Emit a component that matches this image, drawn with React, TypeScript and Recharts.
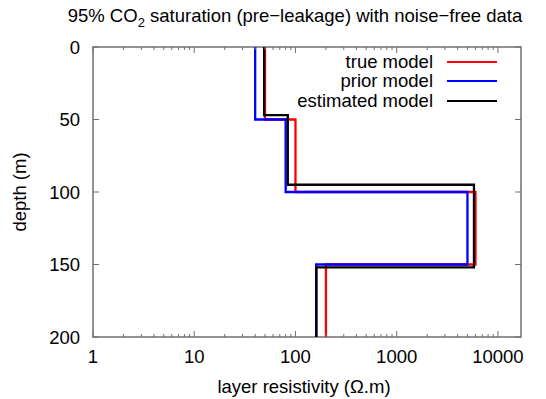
import { Customized, Legend, ReferenceArea, Scatter, ScatterChart, XAxis, YAxis } from "recharts";

// layer boundaries (m) and resistivities (ohm.m)
const trueBounds = [0, 50, 100, 150, 200];
const trueValues = [50, 100, 6000, 200];
const priorBounds = [0, 50, 100, 150, 200];
const priorValues = [40, 80, 5000, 160];
const estimatedBounds = [0, 47, 95, 152, 200];
const estimatedValues = [49, 84, 5800, 161];

const depthTicks = [0, 50, 100, 150, 200];
const resistivityTicks = [1, 10, 100, 1000, 10000];
const minorSteps = [2, 3, 4, 5, 6, 7, 8, 9];

const W = 546;
const H = 399;
const PLOT_LEFT = 93;
const PLOT_RIGHT = 521;
const PLOT_TOP = 47;
const PLOT_BOTTOM = 337;
const X_MAX = 16900;
const FONT = '"Liberation Sans", Arial, sans-serif';
const FS = 18.5;
const FRAME = "#707070";

// turn layer boundaries + values into the corner points of a step profile
const stepProfile = (bounds: number[], values: number[]) =>
  values.flatMap((v, i) => [
    { res: v, depth: bounds[i] },
    { res: v, depth: bounds[i + 1] },
  ]);

const series = [
  { name: "true model", color: "#ff0000", data: stepProfile(trueBounds, trueValues) },
  { name: "prior model", color: "#0000ff", data: stepProfile(priorBounds, priorValues) },
  { name: "estimated model", color: "#000000", data: stepProfile(estimatedBounds, estimatedValues) },
];

const allXTicks = [
  ...resistivityTicks,
  ...resistivityTicks.slice(0, -1).flatMap((d) => minorSteps.map((m) => d * m)),
].sort((a, b) => a - b);

const XTick = ({ x, payload }: any) => {
  const major = resistivityTicks.includes(payload.value);
  const len = major ? 6 : 3;
  return (
    <g>
      <line x1={x} x2={x} y1={PLOT_BOTTOM} y2={PLOT_BOTTOM - len} stroke={FRAME} />
      <line x1={x} x2={x} y1={PLOT_TOP} y2={PLOT_TOP + len} stroke={FRAME} />
      {major && (
        <text x={x} y={PLOT_BOTTOM + 26} textAnchor="middle" fontSize={FS} fontFamily={FONT} fill="#000">
          {payload.value}
        </text>
      )}
    </g>
  );
};

const YTick = ({ y, payload }: any) => (
  <g>
    <line x1={PLOT_LEFT} x2={PLOT_LEFT + 6} y1={y} y2={y} stroke={FRAME} />
    <line x1={PLOT_RIGHT - 6} x2={PLOT_RIGHT} y1={y} y2={y} stroke={FRAME} />
    <text x={80} y={y} dy={6.5} textAnchor="end" fontSize={FS} fontFamily={FONT} fill="#000">
      {payload.value}
    </text>
  </g>
);

const Texts = () => (
  <g fontFamily={FONT} fill="#000" fontSize={FS}>
    <text x={295} y={22} textAnchor="middle">
      95% CO
      <tspan fontSize={13} dy={5}>2</tspan>
      <tspan dy={-5}> saturation (pre−leakage) with noise−free data</tspan>
    </text>
    <text x={304} y={393} textAnchor="middle">
      layer resistivity (Ω.m)
    </text>
    <text x={26} y={192} textAnchor="middle" transform="rotate(-90, 26, 192)">
      depth (m)
    </text>
  </g>
);

const LegendBox = () => (
  <div style={{ fontFamily: FONT, fontSize: FS, color: "#000", lineHeight: 1 }}>
    {series.map((s) => (
      <div key={s.name} style={{ display: "flex", justifyContent: "flex-end", alignItems: "center", height: 19.5 }}>
        <span>{s.name}</span>
        <span style={{ display: "inline-block", width: 50, height: 2.3, marginLeft: 14, background: s.color }} />
      </div>
    ))}
  </div>
);

export default function App() {
  return (
    <div style={{ position: "absolute", left: 0, top: 0, background: "#fff" }}>
      <ScatterChart width={W} height={H} margin={{ top: PLOT_TOP, right: W - PLOT_RIGHT, bottom: 0, left: 0 }}>
        <XAxis
          type="number"
          dataKey="res"
          scale="log"
          domain={[1, X_MAX]}
          allowDataOverflow
          ticks={allXTicks}
          interval={0}
          height={H - PLOT_BOTTOM}
          tickSize={0}
          tickMargin={0}
          axisLine={false}
          tick={<XTick />}
        />
        <YAxis
          type="number"
          dataKey="depth"
          domain={[0, 200]}
          reversed
          ticks={depthTicks}
          interval={0}
          width={PLOT_LEFT}
          tickSize={0}
          tickMargin={0}
          axisLine={false}
          tick={<YTick />}
        />
        {series.map((s) => (
          <Scatter
            key={s.name}
            name={s.name}
            data={s.data}
            fill={s.color}
            line={{ stroke: s.color, strokeWidth: 2.3 }}
            lineType="joint"
            shape={() => <g />}
            isAnimationActive={false}
          />
        ))}
        <ReferenceArea x1={1} x2={X_MAX} y1={0} y2={200} fill="none" stroke={FRAME} strokeWidth={1.5} />
        <Legend
          layout="vertical"
          align="center"
          verticalAlign="middle"
          content={<LegendBox />}
          wrapperStyle={{ top: 52, left: 247, width: 250 }}
        />
        <Customized component={<Texts />} />
      </ScatterChart>
    </div>
  );
}
